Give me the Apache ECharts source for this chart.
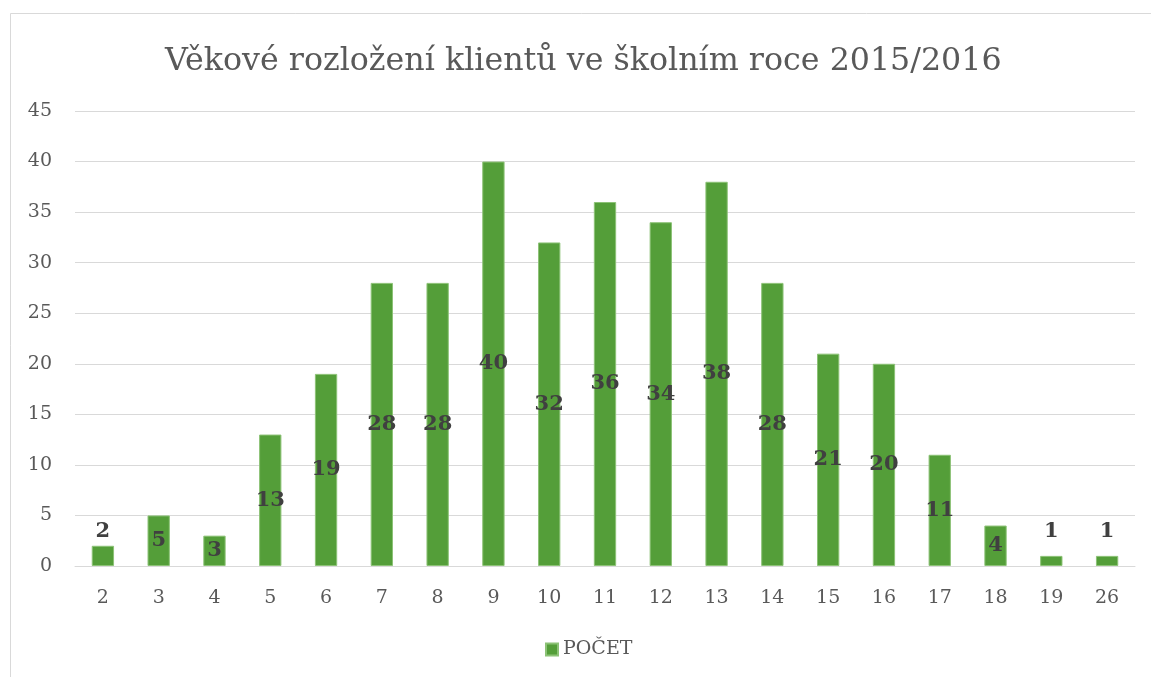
<!DOCTYPE html>
<html>
<head>
<meta charset="utf-8">
<script src="https://cdn.jsdelivr.net/npm/echarts@6/dist/echarts.min.js"></script>
<style>
  html, body { margin: 0; padding: 0; background: #fff; }
  #chart { width: 1151px; height: 677px; }
</style>
</head>
<body>
<div id="chart"></div>
<script>
// age categories and client counts
const ages = ['2', '3', '4', '5', '6', '7', '8', '9', '10', '11', '12', '13', '14', '15', '16', '17', '18', '19', '26'];
const counts = [2, 5, 3, 13, 19, 28, 28, 40, 32, 36, 34, 38, 28, 21, 20, 11, 4, 1, 1];
const yTicks = { min: 0, max: 45, step: 5 };

const serif = '"DejaVu Serif", "Liberation Serif", serif';
const grey = '#595959';

const chart = echarts.init(document.getElementById('chart'));

// Excel keeps labels of very short bars above the bar
const barData = counts.map(v => v < 3
  ? { value: v, label: { position: 'insideBottom', distance: 24 } }
  : v);

chart.setOption({
  backgroundColor: '#fff',
  graphic: [{
    type: 'rect',
    shape: { x: 10.5, y: 13.5, width: 1200, height: 700 },
    style: { fill: 'none', stroke: '#d9d9d9', lineWidth: 1 },
    silent: true
  }],
  title: {
    text: 'Věkové rozložení klientů ve školním roce 2015/2016',
    left: 160,
    top: 41,
    textStyle: { fontFamily: serif, fontSize: 31.7, fontWeight: 'normal', color: grey }
  },
  legend: {
    data: ['POČET'],
    bottom: 13,
    left: 540,
    icon: 'rect',
    itemWidth: 12,
    itemHeight: 12,
    itemGap: 7,
    textStyle: { fontFamily: serif, fontSize: 19, color: grey }
  },
  grid: { left: 75, right: 16, top: 111, bottom: 111, containLabel: false },
  xAxis: {
    type: 'category',
    data: ages,
    axisLine: { lineStyle: { color: '#d9d9d9', width: 1 } },
    axisTick: { show: false },
    axisLabel: { fontFamily: serif, fontSize: 19, color: grey, margin: 23 }
  },
  yAxis: {
    type: 'value',
    min: yTicks.min,
    max: yTicks.max,
    interval: yTicks.step,
    axisLine: { show: false },
    axisTick: { show: false },
    axisLabel: { fontFamily: serif, fontSize: 19, color: grey, margin: 23 },
    splitLine: { lineStyle: { color: '#d9d9d9', width: 1 } }
  },
  series: [{
    name: 'POČET',
    type: 'bar',
    data: barData,
    barWidth: '40%',
    itemStyle: { color: '#549e39', borderColor: '#8cc276', borderWidth: 1 },
    label: {
      show: true,
      position: 'inside',
      fontFamily: serif,
      fontSize: 21,
      fontWeight: 'bold',
      color: '#404040'
    }
  }]
});
</script>
</body>
</html>
